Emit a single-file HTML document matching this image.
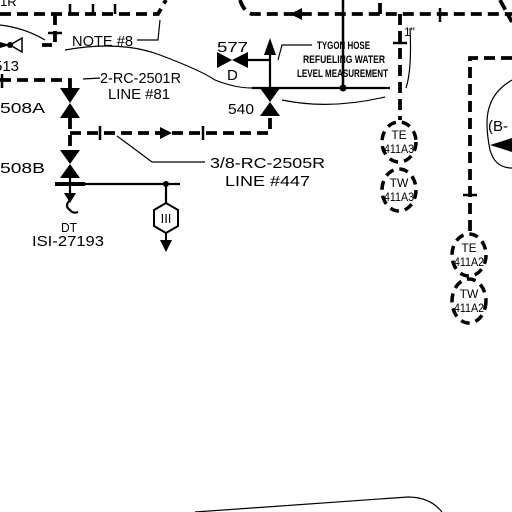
<!DOCTYPE html>
<html><head><meta charset="utf-8"><style>
html,body{margin:0;padding:0;background:#fff;}
svg{display:block;}
text{font-family:"Liberation Sans",sans-serif;fill:#000;}
</style></head><body>
<svg width="512" height="512" viewBox="0 0 512 512" xmlns="http://www.w3.org/2000/svg">
<g fill="none" stroke="#000">
 <g stroke-width="3.8" stroke-dasharray="11,6">
  <path d="M0 14 H158 L166 0"/>
  <path d="M55 14 V45 H42"/>
  <path d="M240 0 Q244 12 252 14 H512"/>
  <path d="M380 14 V0"/>
  <path d="M400 14 V120"/>
  <path d="M512 58 H470 V234"/>
  <path d="M500 0 L512 22"/>
  <path d="M0 80 H70 V88"/>
  <path d="M70 118 V150"/>
  <path d="M70 133 H270 V115"/>
 </g>
 <g stroke-width="3.5" stroke-dasharray="9,6">
  <ellipse cx="399" cy="142" rx="17" ry="20"/>
  <ellipse cx="399" cy="190" rx="17" ry="21"/>
  <ellipse cx="469" cy="255" rx="17" ry="21"/>
  <ellipse cx="469" cy="301" rx="17" ry="22"/>
 </g>
 <g stroke-width="2.5">
  <path d="M70 14V4 M93 14V4 M115 14V4"/>
  <path d="M48 33H62"/>
  <path d="M343 0V88"/>
  <path d="M440 8V22"/>
  <path d="M393 43H407"/>
  <path d="M463 195H477"/>
  <path d="M100 126V140 M203 126V140"/>
  <path d="M2 74V88"/>
 </g>
 <g stroke-width="2.2">
  <path d="M252 88H390"/>
  <path d="M270 88V52"/>
  <path d="M248 60H270"/>
  <path d="M55 184H180"/>
  <path d="M166 184V203"/>
  <path d="M70 178V200"/>
  <path d="M70 200 q-6 6 0 10 q3 4 8 2"/>
 </g>
 <g stroke-width="1.2">
  <path d="M137 40H158L160 20"/>
  <path d="M83 79 L100 78"/>
  <path d="M117 136 L152 162 H205"/>
  <path d="M278 60 L282 45 H312"/>
  <path d="M0 25 Q25 28 45 40"/>
  <path d="M65 50 Q120 40 160 55 Q200 70 215 80 Q235 88 252 88"/>
  <path d="M282 100 Q330 110 385 97"/>
  <path d="M410 28 Q412 70 406 88"/>
  <path d="M512 80 Q495 90 490 105 Q484 120 490 150 Q495 168 512 168"/>
  <path d="M195 512 Q300 505 408 497 Q430 497 442 512"/>
 </g>
</g>
<g fill="#000">
 <path d="M60 88H80L70 103Z M60 118H80L70 103Z"/>
 <path d="M60 150H80L70 164Z M60 178H80L70 164Z"/>
 <rect x="55" y="182" width="30" height="4"/>
 <path d="M260 88H280L270 102Z M260 116H280L270 102Z"/>
 <path d="M217 52V68L232 60Z M248 52V68L232 60Z"/>
 <path d="M264 55H276L270 38Z"/>
 <path d="M0 42L10 45L0 48Z"/><circle cx="10" cy="45" r="3"/>
 <path d="M10 45L22 38V52Z" fill="none" stroke="#000" stroke-width="1.5"/>
 <path d="M160 127V139L172 133Z"/>
 <path d="M302 8V20L290 14Z"/>
 <path d="M512 138V152L490 145Z"/>
 <path d="M160 240H172L166 252Z"/>
 <path d="M64 193H76L70 203Z"/>
 <circle cx="343" cy="88" r="3.5"/><circle cx="166" cy="184" r="3"/>
</g>
<path d="M166 203L178 210V226L166 233L154 226V210Z" fill="#fff" stroke="#000" stroke-width="2"/>
<path d="M166 233V240" stroke="#000" stroke-width="2"/>
<text x="166" y="223" font-size="13" text-anchor="middle" font-family="Liberation Serif">III</text>
<g font-size="15">
 <text x="0" y="6" font-size="13">1R</text>
 <text x="72" y="46" textLength="61" lengthAdjust="spacingAndGlyphs">NOTE #8</text>
 <text x="-6" y="71">513</text>
 <text x="0" y="113" textLength="45" lengthAdjust="spacingAndGlyphs">508A</text>
 <text x="0" y="173" textLength="45" lengthAdjust="spacingAndGlyphs">508B</text>
 <text x="100" y="83" textLength="81" lengthAdjust="spacingAndGlyphs">2-RC-2501R</text>
 <text x="108" y="99" textLength="62" lengthAdjust="spacingAndGlyphs">LINE #81</text>
 <text x="210" y="168" textLength="115" lengthAdjust="spacingAndGlyphs">3/8-RC-2505R</text>
 <text x="225" y="186" textLength="85" lengthAdjust="spacingAndGlyphs">LINE #447</text>
 <text x="217" y="52" textLength="31" lengthAdjust="spacingAndGlyphs">577</text>
 <text x="227" y="80">D</text>
 <text x="228" y="114" textLength="26" lengthAdjust="spacingAndGlyphs">540</text>
 <text x="61" y="232" font-size="13" textLength="16" lengthAdjust="spacingAndGlyphs">DT</text>
 <text x="32" y="246" textLength="72" lengthAdjust="spacingAndGlyphs">ISI-27193</text>
 <text x="488" y="131">(B-</text>
 <text x="404" y="36" font-size="12">1"</text>
</g>
<g font-size="11" font-weight="bold">
 <text x="317" y="49" textLength="53" lengthAdjust="spacingAndGlyphs">TYGON HOSE</text>
 <text x="303" y="63" textLength="82" lengthAdjust="spacingAndGlyphs">REFUELING WATER</text>
 <text x="297" y="77" textLength="91" lengthAdjust="spacingAndGlyphs">LEVEL MEASUREMENT</text>
</g>
<g font-size="12" text-anchor="middle">
 <text x="399" y="139">TE</text><text x="399" y="153" textLength="30" lengthAdjust="spacingAndGlyphs">411A3</text>
 <text x="399" y="187">TW</text><text x="399" y="201" textLength="30" lengthAdjust="spacingAndGlyphs">411A3</text>
 <text x="469" y="252">TE</text><text x="469" y="266" textLength="30" lengthAdjust="spacingAndGlyphs">411A2</text>
 <text x="469" y="298">TW</text><text x="469" y="312" textLength="30" lengthAdjust="spacingAndGlyphs">411A2</text>
</g>
</svg>
</body></html>
